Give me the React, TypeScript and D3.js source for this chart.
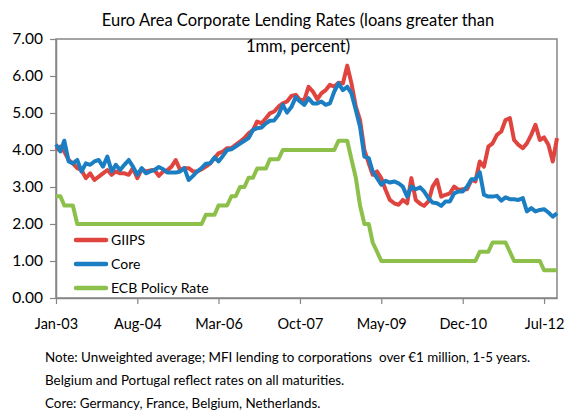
import React, { useEffect, useRef } from "react";
import * as d3 from "d3";

// monthly observations, Jan-03 .. Oct-12
const startMonth = new Date(Date.UTC(2003, 0, 1));
const tickLabels = ["Jan-03", "Aug-04", "Mar-06", "Oct-07", "May-09", "Dec-10", "Jul-12"];

const giips = [
  4.0, 4.09, 3.96, 3.73, 3.64, 3.51, 3.46, 3.24, 3.37, 3.19,
  3.28, 3.37, 3.46, 3.33, 3.42, 3.37, 3.37, 3.33, 3.51, 3.24,
  3.48, 3.42, 3.45, 3.46, 3.3, 3.42, 3.45, 3.55, 3.73, 3.46,
  3.51, 3.51, 3.42, 3.42, 3.48, 3.55, 3.64, 3.78, 3.91, 3.96,
  4.05, 4.05, 4.14, 4.23, 4.32, 4.45, 4.54, 4.77, 4.72, 4.86,
  4.99, 5.04, 5.17, 5.26, 5.31, 5.46, 5.49, 5.35, 5.35, 5.71,
  5.58, 5.37, 5.53, 5.62, 5.76, 5.71, 5.82, 5.8, 6.28, 5.8,
  5.17, 4.81, 4.0, 3.64, 3.33, 3.42, 3.24, 2.92, 2.65, 2.56,
  2.52, 2.65, 2.56, 3.24, 2.65, 2.55, 2.49, 2.61, 3.01, 3.19,
  2.74, 2.79, 2.83, 3.01, 2.92, 2.94, 2.94, 3.19, 3.15, 3.69,
  3.55, 4.09, 4.18, 4.41, 4.5, 4.81, 4.86, 4.27, 4.14, 4.05,
  4.18, 4.41, 4.68, 4.27, 4.34, 4.14, 3.69, 4.32
];

const core = [
  4.15, 3.96, 4.25, 3.69, 3.64, 3.73, 3.42, 3.64, 3.6, 3.69,
  3.73, 3.55, 3.82, 3.42, 3.6, 3.46, 3.6, 3.73, 3.55, 3.33,
  3.51, 3.37, 3.42, 3.46, 3.54, 3.48, 3.39, 3.39, 3.39, 3.42,
  3.51, 3.19, 3.3, 3.42, 3.51, 3.63, 3.64, 3.8, 3.69, 3.84,
  4.0, 4.02, 4.09, 4.17, 4.25, 4.32, 4.54, 4.59, 4.61, 4.72,
  4.79, 4.8, 4.95, 5.22, 5.01, 5.16, 5.43, 5.31, 5.22, 5.4,
  5.26, 5.26, 5.31, 5.22, 5.26, 5.58, 5.8, 5.62, 5.71, 5.53,
  5.08, 4.63, 3.82, 3.78, 3.42, 3.24, 3.06, 3.17, 3.12, 3.15,
  3.1, 3.01, 2.74, 3.01, 2.94, 2.99, 2.88, 2.7, 2.58, 2.56,
  2.49, 2.61, 2.61, 2.83, 2.88, 2.88, 3.01, 3.21, 3.21, 3.4,
  2.79, 2.74, 2.74, 2.76, 2.63, 2.72, 2.67, 2.67, 2.65, 2.7,
  2.34, 2.43, 2.34, 2.38, 2.4, 2.31, 2.2, 2.29
];

const ecb = [
  2.75, 2.75, 2.5, 2.5, 2.5, 2.0, 2.0, 2.0, 2.0, 2.0, 2.0, 2.0,
  2.0, 2.0, 2.0, 2.0, 2.0, 2.0, 2.0, 2.0, 2.0, 2.0, 2.0, 2.0,
  2.0, 2.0, 2.0, 2.0, 2.0, 2.0, 2.0, 2.0, 2.0, 2.0, 2.0, 2.25,
  2.25, 2.25, 2.5, 2.5, 2.5, 2.75, 2.75, 3.0, 3.0, 3.25, 3.25, 3.5,
  3.5, 3.5, 3.75, 3.75, 3.75, 4.0, 4.0, 4.0, 4.0, 4.0, 4.0, 4.0,
  4.0, 4.0, 4.0, 4.0, 4.0, 4.0, 4.25, 4.25, 4.25, 3.75, 3.25, 2.5,
  2.0, 2.0, 1.5, 1.25, 1.0, 1.0, 1.0, 1.0, 1.0, 1.0, 1.0, 1.0,
  1.0, 1.0, 1.0, 1.0, 1.0, 1.0, 1.0, 1.0, 1.0, 1.0, 1.0, 1.0,
  1.0, 1.0, 1.0, 1.25, 1.25, 1.25, 1.5, 1.5, 1.5, 1.5, 1.25, 1.0,
  1.0, 1.0, 1.0, 1.0, 1.0, 1.0, 0.75, 0.75, 0.75, 0.75
];

const series = [
  { name: "GIIPS", values: giips, color: "#E0443F" },
  { name: "Core", values: core, color: "#1B7EC2" },
  { name: "ECB Policy Rate", values: ecb, color: "#8DC04B" }
];

const notes = [
  "Note: Unweighted average; MFI lending to corporations  over \u20ac1 million, 1-5 years.",
  "Belgium and Portugal reflect rates on all maturities.",
  "Core: Germancy, France, Belgium, Netherlands."
];

const FONT = "Lato, 'Open Sans', sans-serif";

export default function App() {
  const ref = useRef<SVGSVGElement>(null);

  useEffect(() => {
    const width = 573;
    const height = 413;
    const margin = { top: 39, right: 16, bottom: 115, left: 56 };
    const axisColor = "#868686";

    const svg = d3.select(ref.current);
    svg.selectAll("*").remove();
    svg.attr("width", width).attr("height", height);

    const months = giips.map((_, i) => d3.utcMonth.offset(startMonth, i));

    const x = d3
      .scaleUtc()
      .domain([months[0], months[months.length - 1]])
      .range([margin.left, width - margin.right]);

    const y = d3
      .scaleLinear()
      .domain([0, 7])
      .range([height - margin.bottom, margin.top]);

    const tickDates = tickLabels.map((_, i) => d3.utcMonth.offset(startMonth, i * 19));

    // plot frame
    svg
      .append("rect")
      .attr("x", margin.left)
      .attr("y", margin.top)
      .attr("width", width - margin.right - margin.left)
      .attr("height", height - margin.bottom - margin.top)
      .attr("fill", "none")
      .attr("stroke", axisColor)
      .attr("stroke-width", 1.5);

    // y axis
    const gy = svg
      .append("g")
      .attr("transform", `translate(${margin.left},0)`)
      .call(d3.axisLeft(y).tickValues(d3.range(0, 8)).tickFormat(d3.format(".2f")).tickSize(6).tickSizeOuter(0).tickPadding(7));
    gy.select(".domain").attr("stroke", axisColor).attr("stroke-width", 1.5);
    gy.selectAll(".tick line").attr("stroke", axisColor).attr("stroke-width", 1.2);
    gy.selectAll("text")
      .attr("fill", "#000")
      .style("font-family", FONT)
      .style("font-size", "15.5px");

    // x axis
    const gx = svg
      .append("g")
      .attr("transform", `translate(0,${height - margin.bottom})`)
      .call(
        d3
          .axisBottom(x)
          .tickValues(tickDates)
          .tickFormat((_, i) => tickLabels[i])
          .tickSize(6)
          .tickSizeOuter(0)
          .tickPadding(15)
      );
    gx.select(".domain").attr("stroke", axisColor).attr("stroke-width", 1.5);
    gx.selectAll(".tick line").attr("stroke", axisColor).attr("stroke-width", 1.2);
    gx.selectAll("text")
      .attr("fill", "#000")
      .style("font-family", FONT)
      .style("font-size", "14.5px");

    // lines
    const line = d3
      .line<number>()
      .x((_, i) => x(months[i]))
      .y(d => y(d));

    series.forEach(s => {
      svg
        .append("path")
        .datum(s.values)
        .attr("d", line)
        .attr("fill", "none")
        .attr("stroke", s.color)
        .attr("stroke-width", 4)
        .attr("stroke-linejoin", "round");
    });

    // legend
    const legend = svg.append("g");
    series.forEach((s, i) => {
      const ly = 240 + i * 24;
      legend
        .append("line")
        .attr("x1", 76)
        .attr("x2", 106)
        .attr("y1", ly)
        .attr("y2", ly)
        .attr("stroke", s.color)
        .attr("stroke-width", 4.5)
        .attr("stroke-linecap", "round");
      legend
        .append("text")
        .attr("x", 111)
        .attr("y", ly)
        .attr("dy", "0.36em")
        .style("font-family", FONT)
        .style("font-size", "14px")
        .text(s.name);
    });

    // title
    const title = svg
      .append("text")
      .attr("text-anchor", "middle")
      .style("font-family", FONT)
      .style("font-size", "16.5px");
    title.append("tspan").attr("x", 298).attr("y", 26).text("Euro Area Corporate Lending Rates (loans greater than");
    title.append("tspan").attr("x", 298).attr("y", 52).text("1mm, percent)");

    // notes
    svg
      .selectAll(".note")
      .data(notes)
      .join("text")
      .attr("class", "note")
      .attr("x", 45)
      .attr("y", (_, i) => 362 + i * 23)
      .style("font-family", FONT)
      .style("font-size", "13.4px")
      .style("white-space", "pre")
      .text(d => d);
  }, []);

  return (
    <div style={{ position: "absolute", left: 0, top: 0 }}>
      <svg ref={ref}></svg>
    </div>
  );
}
